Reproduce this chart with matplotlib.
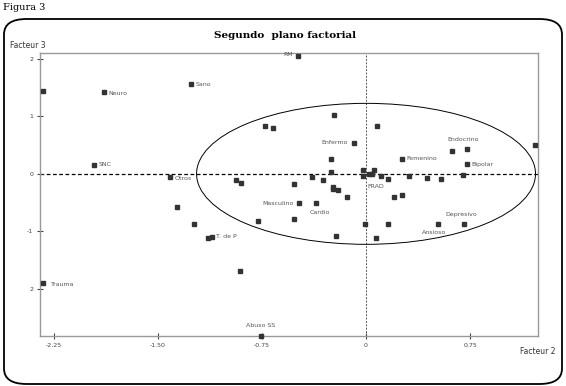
import matplotlib
matplotlib.use("Agg")
import matplotlib.pyplot as plt
from matplotlib.patches import Ellipse, FancyBboxPatch
import numpy as np

# coordenadas de las modalidades (Facteur 2, Facteur 3)
etiquetas = ["Neuro", "Sano", "RM", "SNC", "Otros", "Enfermo", "Endocrino", "Femenino",
             "Bipolar", "Masculino", "Cardio", "FRAD", "Depresivo", "Ansioso",
             "T. de P", "Trauma", "Abuso SS"]
x_etiq = [-1.89, -1.26, -0.49, -1.96, -1.41, -0.09, 0.73, 0.26,
          0.73, -0.48, -0.36, 0.02, 0.71, 0.52, -1.11, -2.33, -0.76]
y_etiq = [1.42, 1.56, 2.05, 0.16, -0.05, 0.54, 0.43, 0.26,
          0.18, -0.51, -0.50, 0.00, -0.88, -0.87, -1.10, -1.91, -2.83]

# puntos sin etiqueta
x_otros = [-2.33, -0.23, -0.73, -0.67, 0.08, -0.25, -0.25, -0.02, -0.02, 0.06,
           -0.94, -0.90, -0.52, -0.39, -0.31, -0.24, -0.24, -0.20, -0.14, -0.52,
           -0.78, -1.24, -1.14, -0.22, -0.01, 0.07, -1.36, 1.22, 0.62, 0.70,
           0.11, 0.16, 0.31, 0.44, 0.54, 0.20, 0.26, 0.16, -0.91, 0.04]
y_otros = [1.44, 1.02, 0.84, 0.79, 0.84, 0.25, 0.04, 0.07, -0.04, 0.07,
           -0.10, -0.16, -0.18, -0.05, -0.10, -0.23, -0.26, -0.28, -0.40, -0.78,
           -0.82, -0.87, -1.12, -1.09, -0.87, -1.12, -0.58, 0.50, 0.40, -0.02,
           -0.04, -0.09, -0.04, -0.08, -0.09, -0.40, -0.37, -0.88, -1.70, 0.00]

xticks = [-2.25, -1.50, -0.75, 0, 0.75]
xtick_lab = ["-2.25", "-1.50", "-0.75", "0", "0.75"]
yticks = [2, 1, 0, -1, -2]
ytick_lab = ["2", "1", "0", "-1", "2"]

# posicion de cada etiqueta respecto a su punto (en puntos tipograficos)
desplaz = {"Neuro": (3, -1, "left"), "Sano": (3, 0, "left"), "RM": (-4, 1, "right"),
           "SNC": (3, 0, "left"), "Otros": (3, -1, "left"), "Enfermo": (-4, 0, "right"),
           "Endocrino": (-3, 7, "center"), "Femenino": (3, 0, "left"),
           "Bipolar": (3, -1, "left"), "Masculino": (-4, 0, "right"),
           "Cardio": (3, -7, "center"), "FRAD": (5, -9, "center"),
           "Depresivo": (-2, 7, "center"), "Ansioso": (-3, -6, "center"),
           "T. de P": (3, 0, "left"), "Trauma": (6, -1, "left"),
           "Abuso SS": (0, 8, "center")}

fig = plt.figure(figsize=(5.66, 3.86), dpi=100)
ax = fig.add_axes([40/566, 1-336/386, 498/566, 283/386])

# marco redondeado exterior
marco = FancyBboxPatch((4/566, 2/386), 558/566, 365/386,
                       boxstyle="round,pad=0,rounding_size=0.04",
                       transform=fig.transFigure, fill=False,
                       edgecolor="black", linewidth=1.3)
fig.patches.append(marco)

ax.set_xlim(-2.351, 1.24)
ax.set_ylim(-2.825, 2.105)

# ejes punteados en el origen
ax.axhline(0, color="black", linestyle=(0, (3, 2)), linewidth=0.9, zorder=1)
ax.axvline(0, color="#555555", linestyle=(0, (2, 1.5)), linewidth=0.7, zorder=1)

# elipse de confianza
ax.add_patch(Ellipse((0.0, 0.0), 2 * 1.222, 2 * 1.228, fill=False,
                     edgecolor="black", linewidth=0.7, zorder=1))

ax.plot(x_otros, y_otros, "s", color="#333333", markersize=2.3, zorder=3,
        clip_on=False)
ax.plot(x_etiq, y_etiq, "s", color="#333333", markersize=2.3, zorder=3,
        clip_on=False)

for nombre, xx, yy in zip(etiquetas, x_etiq, y_etiq):
    dx, dy, ha = desplaz[nombre]
    ax.annotate(nombre, (xx, yy), xytext=(dx, dy), textcoords="offset points",
                ha=ha, va="center", fontsize=4.5, color="#555555")

ax.set_xticks(xticks)
ax.set_xticklabels(xtick_lab)
ax.set_yticks(yticks)
ax.set_yticklabels(ytick_lab)
ax.tick_params(direction="inout", length=4, width=0.8, colors="#444444",
               labelsize=4.5, pad=3)
for s in ax.spines.values():
    s.set_color("#999999")
    s.set_linewidth(1.0)

fig.text(3/566, 1-8/386, "Figura 3", family="serif", fontsize=7,
         ha="left", va="center")
fig.text(285/566, 1-35/386, "Segundo  plano factorial", family="serif",
         fontsize=7.5, fontweight="bold", ha="center", va="center")
fig.text(10/566, 1-46/386, "Facteur 3", fontsize=5.5, color="#333333",
         ha="left", va="center")
fig.text(520/566, 1-352/386, "Facteur 2", fontsize=5.5, color="#333333",
         ha="left", va="center")

fig.savefig("out.png", dpi=100)
